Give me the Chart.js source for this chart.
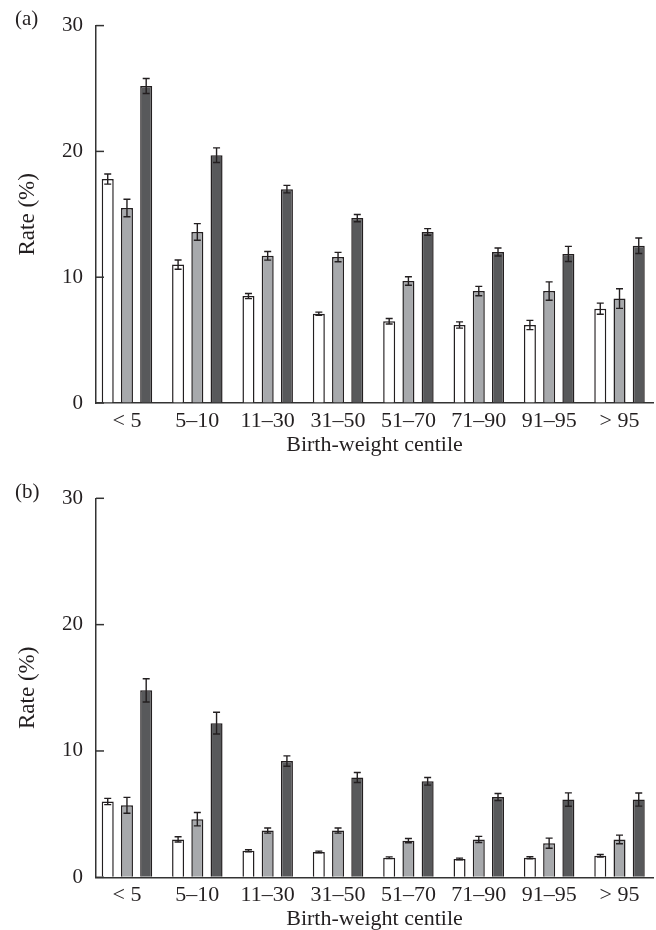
<!DOCTYPE html>
<html><head><meta charset="utf-8">
<script src="https://cdn.jsdelivr.net/npm/chart.js@4.4.1/dist/chart.umd.min.js"></script>
<style>
html,body{margin:0;padding:0;background:#fff;width:656px;height:930px;overflow:hidden;}
#wa{position:absolute;left:0;top:0;width:656px;height:456px;}
#wb{position:absolute;left:0;top:456px;width:656px;height:474px;}
.lab{position:absolute;left:15px;font:21px/21px "Liberation Serif";color:#231f20;}
</style></head><body>
<div id="wa"><canvas id="ca"></canvas></div>
<div id="wb"><canvas id="cb"></canvas></div>
<div class="lab" style="top:8px">(a)</div>
<div class="lab" style="top:481px">(b)</div>
<script>
const categories = ['< 5','5–10','11–30','31–50','51–70','71–90','91–95','> 95'];
const yTickValues = [0,10,20,30];
const xTitle = 'Birth-weight centile';
const yTitle = 'Rate (%)';

// panel (a)
const aWhite    = [17.8, 11.0, 8.5, 7.1, 6.5, 6.2, 6.2, 7.5];
const aWhiteErr = [0.4, 0.37, 0.2, 0.12, 0.22, 0.25, 0.37, 0.44];
const aGrey     = [15.5, 13.6, 11.7, 11.6, 9.7, 8.9, 8.9, 8.3];
const aGreyErr  = [0.7, 0.66, 0.34, 0.37, 0.34, 0.37, 0.73, 0.78];
const aDark     = [25.2, 19.7, 17.0, 14.7, 13.6, 12.0, 11.85, 12.5];
const aDarkErr  = [0.6, 0.58, 0.3, 0.29, 0.26, 0.32, 0.6, 0.62];

// panel (b)
const bWhite    = [6.0, 3.0, 2.1, 2.0, 1.55, 1.45, 1.55, 1.7];
const bWhiteErr = [0.25, 0.21, 0.08, 0.07, 0.07, 0.07, 0.08, 0.1];
const bGrey     = [5.7, 4.6, 3.7, 3.7, 2.9, 3.0, 2.7, 3.0];
const bGreyErr  = [0.63, 0.53, 0.2, 0.2, 0.17, 0.24, 0.4, 0.34];
const bDark     = [14.8, 12.2, 9.2, 7.9, 7.6, 6.35, 6.15, 6.15];
const bDarkErr  = [0.92, 0.86, 0.41, 0.4, 0.3, 0.28, 0.53, 0.52];

const fillColors = ['#ffffff', '#a7a9ac', '#58595b'];
const ink = '#231f20';
const FONT = 'Liberation Serif';

const errPlugin = {
  id: 'errbars',
  afterDatasetsDraw(chart) {
    const ctx = chart.ctx, ys = chart.scales.y;
    ctx.save();
    ctx.strokeStyle = ink;
    ctx.lineWidth = 1.4;
    chart.data.datasets.forEach((ds, di) => {
      const meta = chart.getDatasetMeta(di);
      meta.data.forEach((bar, i) => {
        const v = ds.data[i].y, e = ds.errors[i];
        const y1 = ys.getPixelForValue(v + e), y2 = ys.getPixelForValue(v - e);
        const x = bar.x, c = 3.5;
        ctx.beginPath();
        ctx.moveTo(x, y1); ctx.lineTo(x, y2);
        ctx.moveTo(x - c, y1); ctx.lineTo(x + c, y1);
        ctx.moveTo(x - c, y2); ctx.lineTo(x + c, y2);
        ctx.stroke();
      });
    });
    ctx.lineWidth = 1.5;
    ctx.strokeStyle = '#333';
    ys.ticks.forEach(t => {
      const py = ys.getPixelForValue(t.value);
      ctx.beginPath();
      ctx.moveTo(chart.chartArea.left, py);
      ctx.lineTo(chart.chartArea.left + 8, py);
      ctx.stroke();
    });
    ctx.restore();
  }
};

function makeChart(id, series, errs, topPad, xAxisH) {
  const datasets = series.map((vals, k) => ({
    label: 'series' + k,
    data: vals.map((v, i) => ({x: i, y: v})),
    errors: errs[k],
    backgroundColor: fillColors[k],
    borderColor: ink,
    borderWidth: 1.5,
    categoryPercentage: 0.82,
    barPercentage: 0.625
  }));
  return new Chart(document.getElementById(id), {
    type: 'bar',
    data: {datasets},
    plugins: [errPlugin],
    options: {
      responsive: true,
      maintainAspectRatio: false,
      animation: false,
      layout: {padding: {top: topPad, left: 0, right: 3, bottom: 0}},
      plugins: {legend: {display: false}, tooltip: {enabled: false}},
      scales: {
        x: {
          type: 'linear',
          offset: false,
          min: -0.44,
          max: 7.476,
          afterBuildTicks: s => { s.ticks = categories.map((c, i) => ({value: i})); },
          afterFit: s => { s.height = xAxisH; },
          grid: {display: true, drawOnChartArea: false, drawTicks: false, offset: false},
          border: {display: true, color: '#333', width: 1.5},
          ticks: {
            autoSkip: false, maxRotation: 0, padding: 5,
            color: ink, font: {family: FONT, size: 22, lineHeight: 1.2},
            callback: v => categories[v]
          },
          title: {display: true, text: xTitle, color: ink, padding: {top: 0, bottom: 0},
                  font: {family: FONT, size: 22, lineHeight: 1.0}}
        },
        y: {
          min: 0, max: 30,
          afterBuildTicks: s => { s.ticks = yTickValues.map(v => ({value: v})); },
          afterFit: s => { s.width = 96; },
          grid: {display: true, drawOnChartArea: false, drawTicks: false},
          border: {display: true, color: '#333', width: 1.5},
          ticks: {padding: 13, color: ink, font: {family: FONT, size: 21, lineHeight: 1.2}},
          title: {display: true, text: yTitle, color: ink, padding: {top: 14, bottom: 0},
                  font: {family: FONT, size: 23, lineHeight: 1.2}}
        }
      }
    }
  });
}

makeChart('ca', [aWhite, aGrey, aDark], [aWhiteErr, aGreyErr, aDarkErr], 24, 53);
makeChart('cb', [bWhite, bGrey, bDark], [bWhiteErr, bGreyErr, bDarkErr], 42.3, 52.7);
</script>
</body></html>
